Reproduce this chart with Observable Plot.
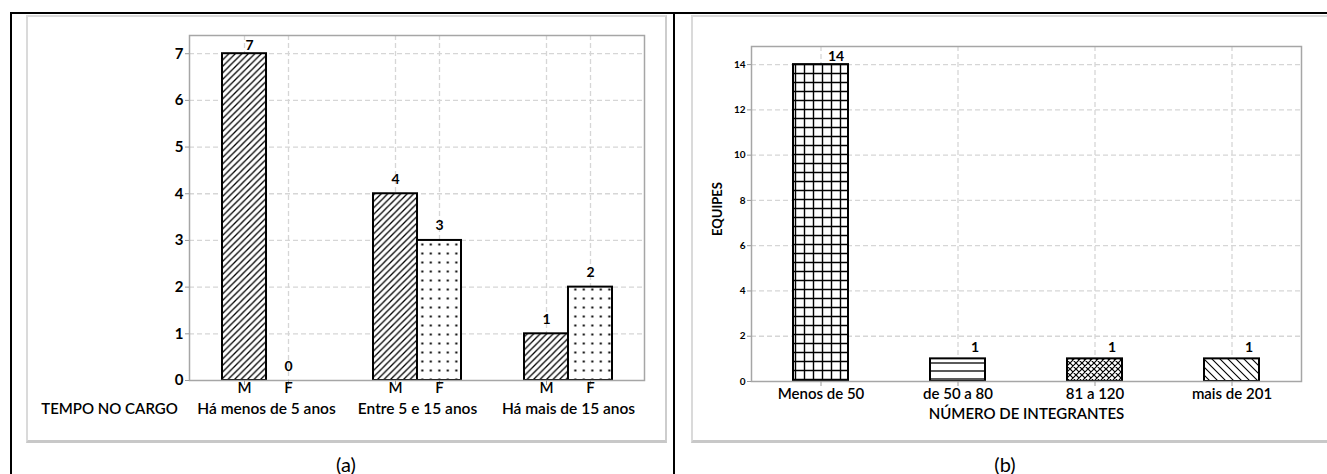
<!DOCTYPE html>
<html><head><meta charset="utf-8">
<script src="https://cdn.jsdelivr.net/npm/d3@7"></script>
<script src="https://cdn.jsdelivr.net/npm/@observablehq/plot@0.6"></script>
<style>
html,body{margin:0;padding:0;background:#fff;}
body{width:1327px;height:474px;position:relative;overflow:hidden;font-family:Lato,sans-serif;}
.line{position:absolute;background:#000;}
.box{position:absolute;box-sizing:border-box;border:2px solid #dadada;border-bottom:3px solid #c8c8c8;border-right:2px solid #cdcdcd;}
.chart{position:absolute;}
.cap{position:absolute;font-size:20px;transform:translate(-50%,-50%);color:#000;font-family:Lato,sans-serif;}
</style></head><body>
<div class="line" style="left:10px;top:12px;width:1317px;height:2px"></div>
<div class="line" style="left:10px;top:12px;width:2px;height:462px"></div>
<div class="line" style="left:673px;top:12px;width:2px;height:462px"></div>
<div class="box" style="left:26px;top:15px;width:641px;height:428px"></div>
<div class="box" style="left:691px;top:15px;width:660px;height:428px"></div>
<div id="a" class="chart" style="left:27px;top:15px"></div>
<div id="b" class="chart" style="left:692px;top:15px"></div>
<div class="cap" style="left:346px;top:464px">(a)</div>
<div class="cap" style="left:1005px;top:464px">(b)</div>
<script>
// ---- Panel (a) data ----
const groups = ["Há menos de 5 anos", "Entre 5 e 15 anos", "Há mais de 15 anos"];
const sexes = ["M", "F"];
const valuesM = [7, 4, 1];
const valuesF = [0, 3, 2];
const yTicksA = [0, 1, 2, 3, 4, 5, 6, 7];
const xTitleA = "TEMPO NO CARGO";

// ---- Panel (b) data ----
const categories = ["Menos de 50", "de 50 a 80", "81 a 120", "mais de 201"];
const equipes = [14, 1, 1, 1];
const yTicksB = [0, 2, 4, 6, 8, 10, 12, 14];
const xTitleB = "NÚMERO DE INTEGRANTES";
const yTitleB = "EQUIPES";

function addPatterns(svg, defs) {
  const d = d3.select(svg).insert("defs", ":first-child");
  for (const p of defs) {
    const pat = d.append("pattern").attr("id", p.id).attr("patternUnits", "userSpaceOnUse")
      .attr("width", p.w).attr("height", p.h);
    pat.append("rect").attr("width", p.w).attr("height", p.h).attr("fill", "#fff");
    if (p.path) pat.append("path").attr("d", p.path).attr("stroke", "#000")
      .attr("stroke-width", p.sw).attr("fill", "none");
    if (p.dot) pat.append("rect").attr("x", p.dot[0]).attr("y", p.dot[1])
      .attr("width", p.dot[2]).attr("height", p.dot[2]).attr("fill", "#000");
  }
}

const grid = {stroke: "#d6d6d6", strokeWidth: 1.3, strokeDasharray: "5,3"};
const frameStyle = {stroke: "#a6a6a6", strokeWidth: 1.5};
const baseStyle = {fontFamily: "Lato, sans-serif", fontSize: "15px", color: "#000", background: "transparent", overflow: "visible"};
const labelWeight = 600;

// ---- Panel (a) ----
const WA = 638, HA = 427, mA = {top: 20, right: 21, bottom: 62, left: 162};
const padInnerA = 0.42;
const bwA = (WA - mA.left - mA.right) / groups.length * (1 - padInnerA);
const offs = {M: -bwA / 4, F: bwA / 4};
const dataA = sexes.flatMap(s => groups.map((g, i) => ({group: g, sex: s, value: s === "M" ? valuesM[i] : valuesF[i]})));
const fillA = {M: "url(#pa-hatch)", F: "url(#pa-dots)"};
const yMaxA = d3.max(dataA, d => d.value);

const chartA = Plot.plot({
  width: WA, height: HA,
  marginTop: mA.top, marginRight: mA.right, marginBottom: mA.bottom, marginLeft: mA.left,
  style: baseStyle,
  x: {type: "band", domain: groups, paddingInner: padInnerA, paddingOuter: padInnerA / 2, align: 0.5, axis: null},
  y: {domain: [0, 7.39]},
  marks: [
    Plot.ruleY(yTicksA.filter(t => t > 0), {y: d => d, ...grid}),
    ...sexes.map(s => Plot.ruleX(groups, {x: d => d, dx: offs[s], ...grid})),
    ...sexes.map(s => Plot.barY(dataA.filter(d => d.sex === s && d.value > 0), {
      x: "group", y: "value", fill: fillA[s], stroke: "#000", strokeWidth: 2,
      insetLeft: s === "F" ? bwA / 2 : 0, insetRight: s === "M" ? bwA / 2 : 0
    })),
    Plot.frame(frameStyle),
    Plot.axisY({ticks: yTicksA, tickSize: 4, tickPadding: 2, fontWeight: "bold", fontSize: 15, stroke: "#9a9a9a", label: null}),
    ...sexes.map(s => Plot.tickX(groups, {x: d => d, dx: offs[s], stroke: "#9a9a9a", insetTop: HA - mA.top - mA.bottom, insetBottom: -5})),
    ...sexes.map(s => Plot.text(groups, {x: d => d, dx: offs[s], text: () => s, frameAnchor: "bottom", dy: 12, fontWeight: labelWeight, fontSize: 15})),
    Plot.text(groups, {x: d => d, text: d => d, frameAnchor: "bottom", dy: 33, fontSize: 15.5, fontWeight: labelWeight}),
    Plot.text([xTitleA], {text: d => d, frameAnchor: "bottom-left", dx: -80, dy: 33, fontSize: 15, fontWeight: labelWeight, textAnchor: "middle"}),
    ...sexes.map(s => Plot.text(dataA.filter(d => d.sex === s && d.value < yMaxA), {
      x: "group", y: "value", text: "value", dx: offs[s], dy: -10, lineAnchor: "bottom", fontWeight: "bold", fontSize: 14})),
    ...sexes.map(s => Plot.text(dataA.filter(d => d.sex === s && d.value === yMaxA), {
      x: "group", y: "value", text: "value", dx: offs[s] + 5, dy: -4, lineAnchor: "bottom", fontWeight: "bold", fontSize: 14}))
  ]
});
addPatterns(chartA, [
  {id: "pa-hatch", w: 6.5, h: 6.5, sw: 1.3, path: "M0,6.5 L6.5,0 M-1,1 L1,-1 M5.5,7.5 L7.5,5.5"},
  {id: "pa-dots", w: 8.5, h: 9, dot: [3.3, 3.5, 2]}
]);
document.getElementById("a").append(chartA);

// ---- Panel (b) ----
const WB = 635, HB = 427, mB = {top: 31, right: 26, bottom: 61, left: 59};
const yDomainB = [0, 14.8];
const dataB = categories.map((c, i) => ({cat: c, value: equipes[i]}));
const fillB = ["url(#pb-grid)", "url(#pb-hlines)", "url(#pb-cross)", "url(#pb-back)"];
const yMaxB = d3.max(equipes);

const chartB = Plot.plot({
  width: WB, height: HB,
  marginTop: mB.top, marginRight: mB.right, marginBottom: mB.bottom, marginLeft: mB.left,
  style: baseStyle,
  x: {type: "band", domain: categories, paddingInner: 0.6, paddingOuter: 0.3, align: 0.5},
  y: {domain: yDomainB},
  marks: [
    Plot.ruleY(yTicksB.filter(t => t > 0), {y: d => d, ...grid}),
    Plot.ruleX(categories, {x: d => d, ...grid}),
    ...dataB.map((d, i) => Plot.barY([d], {x: "cat", y: "value", fill: fillB[i], stroke: "#000", strokeWidth: 2})),
    Plot.frame(frameStyle),
    Plot.axisY({ticks: yTicksB, tickSize: 4, tickPadding: 2, fontWeight: "bold", fontSize: 10, stroke: "#9a9a9a", label: null}),
    Plot.axisX({tickSize: 5, tickPadding: 2, fontSize: 15, fontWeight: labelWeight, stroke: "#9a9a9a", label: null}),
    Plot.text([xTitleB], {text: d => d, frameAnchor: "bottom", dy: 37, fontSize: 15, fontWeight: labelWeight}),
    Plot.text([yTitleB], {text: d => d, frameAnchor: "left", textAnchor: "middle", rotate: -90, dx: -34, dy: -5, fontSize: 13, fontWeight: "bold"}),
    Plot.text(dataB.filter(d => d.value < yMaxB), {x: "cat", y: "value", text: "value", dx: 17, dy: -7, lineAnchor: "bottom", fontWeight: "bold", fontSize: 14}),
    Plot.text(dataB.filter(d => d.value === yMaxB), {x: "cat", y: "value", text: "value", dx: 15, dy: -4, lineAnchor: "bottom", fontWeight: "bold", fontSize: 14})
  ]
});
addPatterns(chartB, [
  {id: "pb-grid", w: 9, h: 9, sw: 1.4, path: "M4.5,0 V9 M0,4.5 H9"},
  {id: "pb-hlines", w: 10, h: 8, sw: 1.3, path: "M0,4 H10"},
  {id: "pb-cross", w: 6, h: 6, sw: 1.2, path: "M0,6 L6,0 M-1,1 L1,-1 M5,7 L7,5 M0,0 L6,6 M-1,5 L1,7 M5,-1 L7,1"},
  {id: "pb-back", w: 8, h: 8, sw: 1.1, path: "M0,0 L8,8 M-1,7 L1,9 M7,-1 L9,1"}
]);
document.getElementById("b").append(chartB);
</script>
</body></html>
